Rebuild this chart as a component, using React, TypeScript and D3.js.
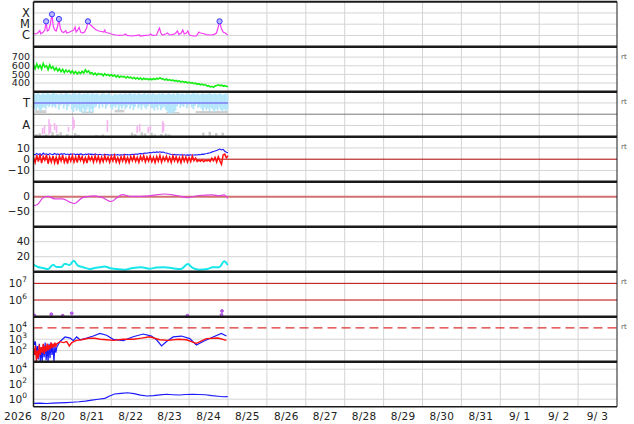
import React from "react"
import * as d3 from "d3"

const W = 634
const HT = 424
const L = 33.5
const R = 617
const TOP = 1.7
const PH = 45
const FONT = "DejaVu Sans, sans-serif"

const start = new Date(2026, 7, 20)
const end = new Date(2026, 8, 4)
const hr = (h: number) => new Date(start.getTime() + h * 3600000)

// panel 1: x-ray flux, [hour, W/m2]
const xrayFlux: [number, number][] = [
  [0, 1.5e-6], [1.4, 1.35e-6], [2.6, 1.65e-6], [3.9, 2.75e-6], [4.5, 1.4e-6], [5.7, 1.8e-6],
  [7, 3.0e-6], [7.8, 1.8e-5], [8.5, 2.5e-6], [9.4, 3.0e-6], [10.3, 8.5e-6], [11.4, 7.6e-5],
  [12.2, 6.9e-6], [13.1, 3.0e-6], [14, 2.5e-6], [14.9, 6.9e-6], [15.7, 2.9e-5], [16.5, 4.6e-6],
  [17.4, 2.25e-6], [18.6, 1.8e-6], [19.9, 2.75e-6], [20.5, 1.65e-6], [22.3, 2.0e-6], [23.6, 2.5e-6],
  [24.8, 3.0e-6], [25.7, 5.6e-6], [26.3, 2.0e-6], [27.2, 3.0e-6], [28.2, 5.1e-6], [29.1, 2.0e-6],
  [30.3, 1.65e-6], [31.5, 2.0e-6], [32.8, 4.6e-6], [33.6, 1.8e-5], [34.6, 1.04e-5], [36.5, 5.6e-6],
  [38.3, 3.4e-6], [40.2, 2.5e-6], [42, 2.25e-6], [43.3, 2.0e-6], [44, 3.0e-6], [44.5, 1.8e-6],
  [46.3, 1.65e-6], [48.2, 1.35e-6], [50.7, 1.1e-6], [53, 1.0e-6], [55.6, 1.1e-6], [56.8, 1.35e-6],
  [57.7, 1.0e-6], [60.5, 8.9e-7], [63.6, 1.0e-6], [65.4, 1.1e-6], [66, 8.9e-7], [69, 1.0e-6],
  [71.6, 1.1e-6], [72.2, 1.35e-6], [73.4, 1.0e-6], [75.9, 1.1e-6], [77.7, 4.6e-6], [78.6, 1.65e-6],
  [79.5, 1.1e-6], [81.5, 1.35e-6], [82.6, 1.65e-6], [83.9, 1.1e-6], [85.7, 1.2e-6], [87.6, 1.5e-6],
  [88.8, 2.5e-6], [89.7, 1.2e-6], [91.2, 1.65e-6], [92.1, 3.0e-6], [93, 1.35e-6], [94.3, 1.65e-6],
  [95.2, 2.5e-6], [96.2, 1.1e-6], [98.6, 8.9e-7], [100.5, 8.9e-7], [102, 2.0e-6], [103, 1.65e-6],
  [104.8, 1.5e-6], [106.7, 1.2e-6], [109, 1.1e-6], [111.2, 1.2e-6], [112.9, 1.65e-6], [113.8, 4.6e-6],
  [114.8, 1.8e-5], [115.8, 4.6e-6], [117, 2.0e-6], [118.3, 1.65e-6], [119.8, 1.1e-6],
]
const flarePeaks: [number, number][] = [
  [7.8, 1.8e-5], [11.4, 7.6e-5], [15.7, 2.9e-5], [33.6, 1.8e-5], [114.8, 1.8e-5],
]

// panel 2: hourly speed
const speed = [
  610, 565, 620, 575, 605, 560, 625, 585, 600, 555, 610, 570,
  590, 548, 575, 540, 565, 530, 558, 520, 550, 528, 545, 518,
  540, 512, 532, 505, 528, 510, 535, 515, 552, 525, 540, 510,
  522, 498, 515, 492, 510, 500, 505, 485, 508, 490, 500, 482,
  498, 478, 492, 470, 488, 465, 480, 470, 476, 458, 474, 460,
  468, 452, 465, 448, 462, 445, 458, 440, 455, 444, 452, 438,
  450, 438, 452, 440, 455, 445, 462, 448, 450, 435, 446, 432,
  440, 428, 436, 422, 430, 418, 426, 412, 420, 408, 415, 402,
  410, 398, 404, 392, 398, 386, 392, 380, 388, 375, 382, 368,
  370, 355, 362, 350, 365, 372, 380, 370, 375, 365, 370, 362, 358,
]

// panel 3: T row, hourly band top / bottom (row units 0-10)
const tTop = [
  9.2, 8.8, 9.4, 9.0, 8.6, 9.3, 9.1, 8.7, 9.4, 9.0, 8.8, 9.2, 9.5, 8.9, 9.1, 8.5, 9.3, 9.0, 8.7, 9.2,
  9.4, 8.9, 9.0, 8.6, 9.2, 9.3, 8.8, 9.1, 9.4, 8.7, 9.0, 9.2, 8.9, 9.4, 8.6, 9.1, 9.3, 8.8, 9.0, 9.2,
  8.4, 8.9, 9.3, 9.1, 8.7, 9.0, 9.4, 8.6, 8.2, 8.8, 9.1, 8.5, 8.9, 9.2, 8.7, 9.0, 9.3, 8.8, 9.1, 9.4,
  8.9, 9.0, 9.2, 8.6, 9.3, 9.1, 8.8, 9.0, 9.4, 8.7, 9.2, 9.0, 8.8, 9.3, 9.1, 8.6, 9.0, 9.2, 8.9, 9.4,
  9.0, 8.7, 9.1, 9.3, 8.8, 9.0, 9.2, 8.6, 9.4, 9.1, 8.9, 9.2, 9.0, 8.7, 9.3, 9.1, 8.8, 9.0, 9.4, 8.9,
  9.1, 9.2, 8.6, 9.0, 9.3, 8.8, 9.1, 8.9, 9.4, 9.0, 8.7, 9.2, 9.0, 8.8, 9.3, 9.1, 8.6, 9.0, 9.2, 8.9,
]
const tBot = [
  2.5, 1.8, 3.0, 2.0, 1.5, 2.8, 3.2, 2.2,
  3.8, 3.2, 4.2, 3.0, 3.6, 2.8,
  4.5, 2.0, 3.8, 5.0, 2.5, 4.2, 1.8, 3.5, 4.6,
  2.2, 1.0, 3.0, 1.5, 2.6, 1.2,
  0.8, 2.5, 0.5, 1.8, 3.0, 0.6, 2.2, 1.0, 2.8,
  3.5, 5.0, 2.6, 4.4, 3.0, 4.8, 2.4, 3.8, 5.2, 3.0,
  2.0, 3.6, 2.8, 4.0, 1.8, 3.4, 2.5, 3.8, 2.2,
  3.0, 4.2, 2.4, 3.8, 1.8, 3.2, 4.5, 2.6, 3.6, 2.0, 4.0, 3.0, 2.2, 3.6, 4.4, 2.8,
  2.6, 1.6, 3.2, 2.0, 3.8, 1.8, 2.8, 3.4, 2.0,
  1.2, 0.5, 0.4, 0.8, 0.5, 1.5,
  3.5, 4.6, 2.8, 4.0, 3.2, 5.0, 2.6, 3.8, 4.4, 3.0, 2.2, 3.6, 4.8, 2.8, 3.4,
  2.4, 1.4, 3.0, 1.8, 2.6, 1.2, 2.8, 2.0, 1.0, 2.4, 1.6, 3.0, 1.8, 1.2, 2.2, 1.4, 2.0,
]
// [hourStart, hourEnd, lo, hi]
const tGray: [number, number, number, number][] = [
  [1, 8, 0.4, 1.8], [30, 37, 0.2, 1.2], [50, 56, 0.8, 2.0], [82, 90, 0.3, 1.0], [100, 120, 0.3, 1.4],
]
// A row: [hour, lo, hi]
const aPink: [number, number, number][] = [
  [5.1, 1.0, 3.9], [6.3, 1.3, 4.8], [9.1, 0.9, 7.8], [10.0, 1.7, 5.7], [12.5, 3.0, 6.1],
  [13.7, 1.7, 5.2], [21.1, 2.2, 4.3], [23.9, 3.0, 8.7], [24.5, 3.9, 7.4], [45.1, 2.2, 7.4],
  [63.5, 1.7, 4.8], [65.0, 2.2, 5.7], [70.3, 1.7, 4.3], [71.6, 2.6, 4.8], [79.2, 1.7, 7.0],
  [79.8, 2.6, 6.1],
]
const aGray: [number, number, number][] = [
  [1, 0.2, 1.2], [3, 0.4, 1.5], [7, 0.2, 1.0], [11, 0.3, 2.0], [14, 0.2, 1.3], [16, 0.5, 2.0],
  [20, 0.2, 1.2], [25, 0.3, 1.6], [27, 0.2, 0.9], [38, 0.2, 0.8], [42, 0.3, 1.0], [60, 0.3, 1.8],
  [62, 0.2, 1.2], [66, 0.4, 2.0], [68, 0.2, 1.5], [72, 0.3, 1.8], [74, 0.2, 1.0], [78, 0.2, 1.2],
  [81, 0.3, 1.4], [83, 0.2, 1.0], [104, 0.5, 1.8], [108, 0.4, 2.2], [112, 0.3, 1.6], [116, 0.4, 1.8],
]

// panel 4: hourly Bt (blue) and Bz (red)
const bt = [
  4.6, 3.8, 5.2, 4.1, 4.9, 3.6, 5.4, 4.2, 4.8, 3.9, 5.0, 4.4,
  4.0, 5.1, 4.2, 4.7, 3.8, 4.9, 4.3, 5.0, 4.0, 4.6, 3.9, 4.7,
  4.2, 4.8, 3.9, 4.5, 4.1, 4.7, 4.3, 3.8, 4.6, 4.1, 4.8, 4.3,
  4.5, 4.0, 4.7, 4.2, 3.9, 4.4, 4.0, 3.7, 4.3, 3.9, 4.1, 3.6,
  4.0, 3.7, 4.2, 3.8, 4.1, 3.6, 4.0, 3.8, 4.3, 3.9, 4.1, 3.7,
  4.2, 4.4, 4.1, 4.6, 4.3, 4.8, 5.0, 4.7, 5.2, 5.5, 5.3, 5.8,
  6.0, 5.7, 6.3, 6.0, 6.5, 6.2, 6.6, 6.1, 6.4, 5.8, 5.5, 5.0,
  4.6, 4.2, 4.0, 4.3, 3.8, 4.1, 3.7, 4.0, 3.6, 3.9, 3.5, 3.8,
  3.6, 3.9, 3.5, 3.8, 4.0, 3.7, 4.2, 4.0, 4.5, 4.3, 4.8, 5.0,
  5.4, 5.8, 6.3, 6.8, 7.2, 7.8, 8.5, 9.0, 8.2, 8.8, 7.0, 6.2, 5.8,
]
const bz = [
  1.5, -3.0, 3.5, -2.0, 4.0, -3.5, 2.5, -1.0, 3.8, -4.0, 2.0, -2.5,
  3.0, -3.2, 1.8, -4.5, 2.8, -1.5, 3.6, -2.8, 1.2, -3.8, 2.6, -1.8,
  3.2, -2.5, 2.0, -3.0, 3.8, -1.2, 2.4, -2.8, 1.5, -3.5, 2.8, -1.0,
  2.2, -2.6, 3.0, -1.8, 2.5, -3.0, 1.8, -2.2, 3.2, -1.5, 2.0, -2.8,
  2.6, -1.6, 3.4, -2.4, 1.4, -3.2, 2.2, -1.8, 2.8, -2.6, 1.6, -3.0,
  2.4, -1.4, 3.0, -2.0, 1.8, -2.8, 2.6, -1.2, 3.2, -2.4, 2.0, -1.6,
  2.8, -2.2, 1.6, -3.0, 2.4, -1.8, 3.4, -2.6, 2.0, -1.4, 2.6, -2.0,
  1.8, -2.8, 3.0, -1.6, 2.2, -2.4, 1.4, -3.2, 2.6, -1.8, 2.0, -2.6,
  1.6, -2.2, 2.8, -1.4, 1.0, -2.0, -0.8, -1.8, -0.5, -2.2, -1.0, -1.6,
  -0.6, -2.0, 0.8, -1.4, 1.5, -2.5, 2.2, -1.5, -4.5, 3.8, 4.5, 1.2, 3.0,
]

// panel 5: [hour, nT]
const dst: [number, number][] = [
  [0, -30], [2.3, -27], [5.7, -4], [8.8, 1], [13.1, -7], [18, -7], [22.3, -18], [25.4, -23],
  [27.2, -16], [30.3, -3], [37.6, 3], [42.5, -3], [48, -16], [51.1, -5], [54.8, 7], [60.3, 1],
  [71.6, 3], [80.8, 9], [88.2, 4], [95, -3], [102.3, 4], [110.3, 6], [114.5, 3], [117.6, 6], [119.8, -6],
]

// panel 6: [hour, value]
const density: [number, number][] = [
  [0, 9.3], [2.8, 6.2], [5.9, 4.9], [9.0, 3.6], [12.1, 9.3], [14.2, 6.2], [17.2, 6.2], [19.3, 10.7],
  [22.3, 9], [24.8, 14.7], [27.4, 8], [30.5, 6], [34.6, 3.6], [37.7, 5], [40.8, 6], [43.9, 7],
  [46.9, 5], [51.1, 3.6], [56.2, 2.7], [61.3, 5], [66.5, 6], [71.6, 4], [75.7, 5.5], [80.8, 6],
  [85.9, 4.5], [91.1, 3.6], [95.1, 10.2], [98.2, 5], [102.3, 2.7], [107.4, 3.6], [110.5, 5.8],
  [114.6, 6], [117.7, 13.8], [119.8, 9],
]

// panel 7: [hour, flux]
const protons: [number, number][] = [
  [0.5, 1.2e5], [11, 1.4e5], [18, 1.15e5], [23.6, 1.6e5], [95, 1.15e5], [116, 1.3e5], [116.3, 2.2e5],
]

// panel 8: [hour, flux]
const elecBlue: [number, number][] = [
  [0, 794], [0.6, 316], [1.2, 631], [1.8, 40], [2.4, 251], [3.0, 16], [3.6, 398], [4.2, 10],
  [4.8, 158], [5.4, 10], [6.0, 316], [6.6, 25], [7.2, 501], [7.8, 12.6], [8.4, 200], [9.0, 10],
  [9.6, 398], [10.2, 20], [10.8, 501], [11.4, 40], [12.0, 316], [12.6, 10], [13.2, 251], [13.8, 63],
  [14.4, 200], [16.4, 631], [19.5, 1585], [22.6, 1259], [24.6, 741], [26.6, 1585], [28.7, 891],
  [32.8, 1259], [36.9, 1905], [41, 3311], [45.1, 2239], [49.2, 977], [55.4, 741], [61.5, 1660],
  [67.7, 2884], [72.8, 1905], [75.9, 891], [79, 251], [82.1, 631], [86.2, 1585], [91.3, 1905],
  [96.4, 1122], [100.5, 302], [104.6, 631], [110.8, 1585], [115.9, 3311], [119, 1905],
]
const elecRed: [number, number][] = [
  [0, 158], [0.6, 40], [1.2, 251], [1.8, 10], [2.4, 100], [3.0, 20], [3.6, 316], [4.2, 40],
  [4.8, 200], [5.4, 63], [6.0, 398], [6.6, 50], [7.2, 251], [7.8, 79], [8.4, 398], [9.0, 100],
  [9.6, 316], [10.2, 126], [10.8, 501], [11.4, 158], [12.0, 398], [12.6, 200], [13.2, 501], [13.8, 251],
  [14.4, 398], [16.4, 603], [18.5, 501], [20.5, 603], [22.1, 251], [23.6, 501], [26.6, 794],
  [29.7, 891], [33.8, 1202], [38, 1202], [41, 1000], [45.1, 891], [49.2, 794], [55.4, 1000],
  [61.5, 1000], [66.6, 1259], [71.7, 1660], [77.9, 891], [83, 794], [89.2, 1000], [94.3, 891],
  [100.5, 427], [106.6, 1122], [113.8, 1259], [119, 794],
]

// panel 9: [hour, flux]
const electrons2: [number, number][] = [
  [0, 0.28], [4, 0.3], [8, 0.27], [12, 0.3], [16, 0.32], [20, 0.35], [24, 0.4], [28, 0.45],
  [32, 0.55], [36, 0.75], [40, 1.0], [44, 1.3], [47, 2.7], [50, 5.0], [54, 6.0], [58, 7.4],
  [62, 5.5], [66, 3.5], [70, 2.7], [74, 3.0], [78, 3.8], [82, 4.5], [86, 4.0], [90, 3.6],
  [94, 4.2], [98, 4.5], [102, 4.2], [106, 4.0], [110, 3.0], [114, 2.5], [117, 2.1], [119.8, 2.2],
]

const rtRows = [1, 2, 3, 6, 7]

const pTop = (i: number) => TOP + i * PH

function Pow({ y, e }: { y: number; e: number }) {
  return (
    <text x={27} y={y} dy="0.35em" textAnchor="end" fontSize={10.5}>
      10<tspan fontSize={7.5} dy={-5}>{e}</tspan>
    </text>
  )
}

function Lab({ y, t, size = 10.5 }: { y: number; t: string; size?: number }) {
  return (
    <text x={30} y={y} dy="0.35em" textAnchor="end" fontSize={size}>{t}</text>
  )
}

export default function App() {
  const x = d3.scaleTime().domain([start, end]).range([L, R])
  const band = (i: number) => [pTop(i) + PH, pTop(i)]

  const y1 = d3.scaleLog().domain([1e-7, 1e-3]).range(band(0))
  const y2 = d3.scaleLinear().domain([300, 820]).range(band(1))
  const y3t = d3.scaleLinear().domain([0, 10]).range([pTop(2) + PH / 2, pTop(2)])
  const y3a = d3.scaleLinear().domain([0, 10]).range([pTop(2) + PH, pTop(2) + PH / 2])
  const y4 = d3.scaleLinear().domain([-20, 20]).range(band(3))
  const y5 = d3.scaleLinear().domain([-100, 50]).range(band(4))
  const y6 = d3.scaleLinear().domain([0, 60]).range(band(5))
  const y7 = d3.scaleLog().domain([1e5, 5e7]).range(band(6))
  const y8 = d3.scaleLog().domain([10, 1e5]).range(band(7))
  const y9 = d3.scaleLog().domain([0.1, 1e5]).range(band(8))

  const mk = (y: (v: number) => number) =>
    d3.line<[number, number]>().x(d => x(hr(d[0]))).y(d => y(d[1]))
  const hourly = (arr: number[]) => arr.map((v, i) => [i, v] as [number, number])

  const gridY = [
    ...[1e-4, 1e-5, 1e-6].map(v => y1(v)),
    ...[400, 500, 600, 700].map(v => y2(v)),
    y3t(5), y3a(5),
    y4(10), y4(-10),
    y5(-50),
    y6(20), y6(40),
    ...[1e2, 1e3].map(v => y8(v)),
    ...[1, 1e2, 1e4].map(v => y9(v)),
  ]
  const days = d3.timeDay.range(d3.timeDay.offset(start, 1), end)
  const labelDays = d3.timeDay.range(start, end)
  const fmt = d3.timeFormat("%-m/%e")
  const bottom = pTop(9)
  const xw = (h0: number, h1: number) => x(hr(h1)) - x(hr(h0))
  const minus = (v: number) => String(v).replace("-", "\u2212")

  return (
    <svg
      width={W}
      height={HT}
      style={{ position: "absolute", left: 0, top: 0, background: "#fff" }}
      fontFamily={FONT}
      fill="#222"
    >
      <defs>
        {d3.range(9).map(i => (
          <clipPath id={`clip${i}`} key={i}>
            <rect x={L} y={pTop(i)} width={R - L} height={PH} />
          </clipPath>
        ))}
      </defs>

      {/* grid */}
      {days.map((d, i) => (
        <line key={i} x1={x(d)} x2={x(d)} y1={TOP} y2={bottom} stroke="#d4d4d4" />
      ))}
      {gridY.map((y, i) => (
        <line key={i} x1={L} x2={R} y1={y} y2={y} stroke="#d4d4d4" />
      ))}
      <line x1={L} x2={R} y1={pTop(2) + PH / 2} y2={pTop(2) + PH / 2} stroke="#777" />

      {/* panel 1 */}
      <g clipPath="url(#clip0)">
        <path d={mk(y1)(xrayFlux) ?? ""} fill="none" stroke="#f53cf5" strokeWidth={1.2} />
        {flarePeaks.map((d, i) => (
          <circle key={i} cx={x(hr(d[0]))} cy={y1(d[1])} r={2.6} fill="#b8b8ff" stroke="#3838ff" strokeWidth={1} />
        ))}
      </g>

      {/* panel 2 */}
      <g clipPath="url(#clip1)">
        <path d={mk(y2)(hourly(speed)) ?? ""} fill="none" stroke="#14ee14" strokeWidth={1.6} />
      </g>

      {/* panel 3 */}
      <g clipPath="url(#clip2)">
        {tGray.map((d, i) => (
          <rect key={i} x={x(hr(d[0]))} width={xw(d[0], d[1])} y={y3t(d[3])} height={y3t(d[2]) - y3t(d[3])} fill="#cfcfcf" />
        ))}
        {tBot.map((b, i) => (
          <rect key={i} x={x(hr(i))} width={xw(i, i + 1) + 0.3} y={y3t(tTop[i])} height={y3t(b) - y3t(tTop[i])} fill="#b4e6fb" />
        ))}
        <line x1={x(hr(0))} x2={x(hr(120))} y1={y3t(5)} y2={y3t(5)} stroke="#7b7bf5" strokeWidth={1.4} />
        {aGray.map((d, i) => (
          <rect key={i} x={x(hr(d[0]))} width={2.5} y={y3a(d[2])} height={y3a(d[1]) - y3a(d[2])} fill="#cccccc" />
        ))}
        {aPink.map((d, i) => (
          <rect key={i} x={x(hr(d[0]))} width={1.6} y={y3a(d[2])} height={y3a(d[1]) - y3a(d[2])} fill="#f5b5f0" />
        ))}
      </g>

      {/* panel 4 */}
      <line x1={L} x2={R} y1={y4(0)} y2={y4(0)} stroke="#b00000" />
      <g clipPath="url(#clip3)">
        <path d={mk(y4)(hourly(bt)) ?? ""} fill="none" stroke="#1a1aff" strokeWidth={1.1} />
        <path d={mk(y4)(hourly(bz)) ?? ""} fill="none" stroke="#ff1010" strokeWidth={1.5} />
      </g>

      {/* panel 5 */}
      <line x1={L} x2={R} y1={y5(0)} y2={y5(0)} stroke="#d07070" strokeWidth={2} />
      <g clipPath="url(#clip4)">
        <path d={mk(y5).curve(d3.curveMonotoneX)(dst) ?? ""} fill="none" stroke="#e040e0" strokeWidth={1.2} />
      </g>

      {/* panel 6 */}
      <g clipPath="url(#clip5)">
        <path d={mk(y6).curve(d3.curveMonotoneX)(density) ?? ""} fill="none" stroke="#19e6ea" strokeWidth={2} />
      </g>

      {/* panel 7 */}
      {[1e6, 1e7].map(v => (
        <line key={v} x1={L} x2={R} y1={y7(v)} y2={y7(v)} stroke="#c00000" />
      ))}
      <g clipPath="url(#clip6)">
        {protons.map((d, i) => (
          <circle key={i} cx={x(hr(d[0]))} cy={y7(d[1])} r={1.4} fill="#c070f0" stroke="#a030e0" strokeWidth={0.8} />
        ))}
      </g>

      {/* panel 8 */}
      <line x1={L} x2={R} y1={y8(1e4)} y2={y8(1e4)} stroke="#e03030" strokeWidth={1.3} strokeDasharray="9,5" />
      <g clipPath="url(#clip7)">
        <path d={mk(y8)(elecBlue) ?? ""} fill="none" stroke="#1a1aff" strokeWidth={1.2} />
        <path d={mk(y8)(elecRed) ?? ""} fill="none" stroke="#ff1010" strokeWidth={1.4} />
      </g>

      {/* panel 9 */}
      <g clipPath="url(#clip8)">
        <path d={mk(y9)(electrons2) ?? ""} fill="none" stroke="#1a1aff" strokeWidth={1.1} />
      </g>

      {/* frame */}
      <line x1={L} x2={R} y1={TOP} y2={TOP} stroke="#1a1a1a" strokeWidth={2} />
      {d3.range(1, 9).map(i => (
        <line key={i} x1={L} x2={R} y1={pTop(i)} y2={pTop(i)} stroke="#1a1a1a" strokeWidth={2.5} />
      ))}
      <line x1={L} x2={R} y1={bottom} y2={bottom} stroke="#1a1a1a" strokeWidth={1.6} />
      <line x1={L} x2={L} y1={TOP} y2={bottom} stroke="#1a1a1a" strokeWidth={1.5} />
      <line x1={R} x2={R} y1={TOP} y2={bottom} stroke="#1a1a1a" strokeWidth={1} />

      {/* y labels */}
      <Lab y={y1(1e-4)} t="X" size={11.5} />
      <Lab y={y1(1e-5)} t="M" size={11.5} />
      <Lab y={y1(1e-6)} t="C" size={11.5} />
      {[700, 600, 500, 400].map(v => <Lab key={v} y={y2(v)} t={String(v)} size={9.5} />)}
      <Lab y={y3t(5)} t="T" size={11.5} />
      <Lab y={y3a(5)} t="A" size={11.5} />
      {[10, 0, -10].map(v => <Lab key={v} y={y4(v)} t={minus(v)} />)}
      {[0, -50].map(v => <Lab key={v} y={y5(v)} t={minus(v)} />)}
      {[40, 20].map(v => <Lab key={v} y={y6(v)} t={String(v)} />)}
      <Pow y={y7(1e7)} e={7} />
      <Pow y={y7(1e6)} e={6} />
      <Pow y={y8(1e4)} e={4} />
      <Pow y={y8(1e3)} e={3} />
      <Pow y={y8(1e2)} e={2} />
      <Pow y={y9(1e4)} e={4} />
      <Pow y={y9(1e2)} e={2} />
      <Pow y={y9(1)} e={0} />

      {/* right markers */}
      {rtRows.map(i => (
        <text key={i} x={621} y={pTop(i) + 10} dy="0.35em" fontSize={7} fill="#555">rt</text>
      ))}

      {/* x labels */}
      <text x={18} y={420} textAnchor="middle" fontSize={10.5} letterSpacing={0.3}>2026</text>
      {labelDays.map((d, i) => (
        <text
          key={i}
          x={x(d3.timeHour.offset(d, 12))}
          y={420}
          textAnchor="middle"
          fontSize={10.5}
          letterSpacing={0.3}
          style={{ whiteSpace: "pre" }}
        >
          {fmt(d)}
        </text>
      ))}
    </svg>
  )
}
